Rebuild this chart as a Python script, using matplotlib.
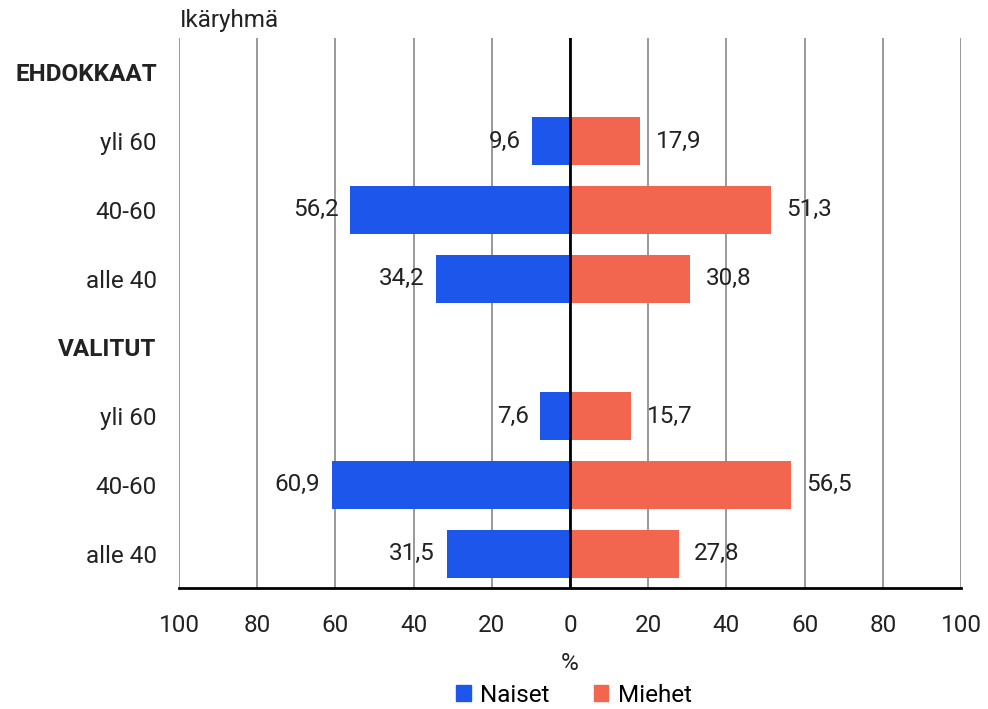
import matplotlib
matplotlib.use("Agg")
import matplotlib.pyplot as plt
from matplotlib.patches import Patch

plt.rcParams['font.family'] = ['Roboto', 'DejaVu Sans']

rows = ["EHDOKKAAT", "yli 60", "40-60", "alle 40", "VALITUT", "yli 60", "40-60", "alle 40"]
bold_rows = {"EHDOKKAAT", "VALITUT"}
naiset = [None, 9.6, 56.2, 34.2, None, 7.6, 60.9, 31.5]
miehet = [None, 17.9, 51.3, 30.8, None, 15.7, 56.5, 27.8]
xticks = [-100, -80, -60, -40, -20, 0, 20, 40, 60, 80, 100]
xticklabels = ["100", "80", "60", "40", "20", "0", "20", "40", "60", "80", "100"]

blue = "#1c56eb"
red = "#f2654e"
fs = 17.5

fig = plt.figure(figsize=(9.88, 7.09), dpi=100)
ax = fig.add_axes([179/988, 1-588/709, (961-179)/988, (588-38)/709])

ys = list(range(len(rows)))
for y, n, m in zip(ys, naiset, miehet):
    if n is not None:
        ax.barh(y, -n, height=0.7, color=blue, zorder=2)
        ax.text(-n - 3, y, f"{n:.1f}".replace(".", ","), ha="right", va="center", fontsize=fs, color="#222222")
    if m is not None:
        ax.barh(y, m, height=0.7, color=red, zorder=2)
        ax.text(m + 4, y, f"{m:.1f}".replace(".", ","), ha="left", va="center", fontsize=fs, color="#222222")

ax.set_xlim(-100, 100)
ax.set_ylim(len(rows) - 0.5, -0.5)
ax.set_xticks(xticks)
ax.set_xticklabels(xticklabels, fontsize=fs, color="#222222")
ax.set_yticks(ys)
ax.set_yticklabels(rows, fontsize=fs, color="#222222")
for lbl in ax.get_yticklabels():
    if lbl.get_text() in bold_rows:
        lbl.set_fontweight("bold")
ax.tick_params(axis="both", length=0)
ax.tick_params(axis="y", pad=16)
ax.tick_params(axis="x", pad=19)
for s in ["top", "right", "left"]:
    ax.spines[s].set_visible(False)
ax.spines["bottom"].set_linewidth(2)
ax.spines["bottom"].set_color("black")
ax.grid(axis="x", color="#888888", linewidth=1.2, zorder=0)
ax.axvline(0, color="black", linewidth=2, zorder=3)
ax.set_axisbelow(True)

fig.text(180/988, 1-20/709, "Ikäryhmä", fontsize=fs, va="center", ha="left", color="#222222")
fig.text(570/988, 1-663/709, "%", fontsize=fs, va="center", ha="center", color="#222222")

handles = [Patch(color=blue, label="Naiset"), Patch(color=red, label="Miehet")]
fig.legend(handles=handles, loc="center", bbox_to_anchor=(574/988, 1-695/709), ncol=2,
           frameon=False, fontsize=fs, handlelength=0.6, handleheight=0.6,
           handletextpad=0.4, columnspacing=1.8)

fig.savefig("out.png", dpi=100)
